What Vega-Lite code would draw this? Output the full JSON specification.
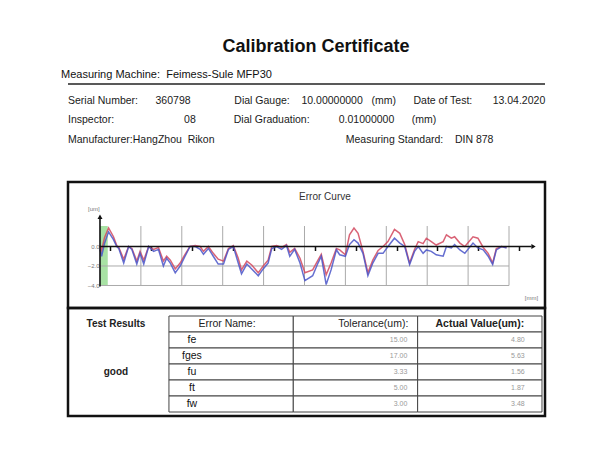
{
  "$schema": "https://vega.github.io/schema/vega-lite/v6.json",
  "background": "white",
  "padding": {"left": 61, "top": 33, "right": 0, "bottom": 0},
  "bounds": "flush",
  "spacing": 0,
  "config": {"font": "Liberation Sans", "view": {"stroke": null}},
  "vconcat": [
    {
      "width": 477,
      "height": 56,
      "layer": [
        {
          "data": {"values": [{"t": "Calibration Certificate"}]},
          "mark": {"type": "text", "fontSize": 18, "fontWeight": "bold", "fill": "#111", "dx": 9.5, "baseline": "middle"},
          "encoding": {
            "text": {"field": "t"},
            "x": {"datum": "center", "type": "ordinal", "scale": {"type": "point", "domain": ["left", "center", "right"], "padding": 0}, "axis": null},
            "y": {"datum": "title", "type": "ordinal", "scale": {"type": "band", "domain": ["title", "machine"], "paddingInner": 0, "paddingOuter": 0}, "axis": null}
          }
        },
        {
          "data": {"values": [{"t": "Measuring Machine:\u00a0\u00a0Feimess-Sule MFP30"}]},
          "mark": {"type": "text", "fontSize": 11, "fill": "#111", "align": "left", "dx": -7, "baseline": "middle"},
          "encoding": {
            "text": {"field": "t"},
            "x": {"datum": "left", "type": "ordinal"},
            "y": {"datum": "machine", "type": "ordinal"}
          }
        },
        {
          "data": {"values": [{}]},
          "mark": {"type": "rule", "stroke": "#222", "strokeWidth": 1.6},
          "encoding": {"y": {"datum": "machine", "type": "ordinal", "bandPosition": 0.82}}
        }
      ]
    },
    {
      "width": 477,
      "height": 93,
      "data": {"values": [
        {"line": "r1", "t": "Serial Number:\u00a0\u00a0\u00a0\u00a0\u00a0\u00a0360798\u00a0\u00a0\u00a0\u00a0\u00a0\u00a0\u00a0\u00a0\u00a0\u00a0\u00a0\u00a0\u00a0\u00a0\u00a0Dial Gauge:\u00a0\u00a0\u00a0\u00a010.00000000\u00a0\u00a0\u00a0(mm)\u00a0\u00a0\u00a0\u00a0\u00a0\u00a0Date of Test:\u00a0\u00a0\u00a0\u00a0\u00a0\u00a0\u00a013.04.2020"},
        {"line": "r2", "t": "Inspector:\u00a0\u00a0\u00a0\u00a0\u00a0\u00a0\u00a0\u00a0\u00a0\u00a0\u00a0\u00a0\u00a0\u00a0\u00a0\u00a0\u00a0\u00a0\u00a0\u00a0\u00a0\u00a0\u00a0\u00a008\u00a0\u00a0\u00a0\u00a0\u00a0\u00a0\u00a0\u00a0\u00a0\u00a0\u00a0\u00a0\u00a0Dial Graduation:\u00a0\u00a0\u00a0\u00a0\u00a0\u00a0\u00a0\u00a0\u00a0\u00a00.01000000\u00a0\u00a0\u00a0\u00a0\u00a0\u00a0(mm)"},
        {"line": "r3", "t": "Manufacturer:HangZhou\u00a0\u00a0Rikon\u00a0\u00a0\u00a0\u00a0\u00a0\u00a0\u00a0\u00a0\u00a0\u00a0\u00a0\u00a0\u00a0\u00a0\u00a0\u00a0\u00a0\u00a0\u00a0\u00a0\u00a0\u00a0\u00a0\u00a0\u00a0\u00a0\u00a0\u00a0\u00a0\u00a0\u00a0\u00a0\u00a0\u00a0\u00a0\u00a0\u00a0\u00a0\u00a0\u00a0\u00a0\u00a0\u00a0\u00a0\u00a0Measuring Standard:\u00a0\u00a0\u00a0\u00a0DIN 878"}
      ]},
      "mark": {"type": "text", "fontSize": 10.5, "fill": "#1a1a1a", "align": "left", "baseline": "middle"},
      "encoding": {
        "text": {"field": "t"},
        "x": {"datum": "left", "type": "ordinal", "scale": {"type": "point", "domain": ["left", "right"], "padding": 0}, "axis": null},
        "y": {"field": "line", "type": "ordinal", "scale": {"type": "band", "domain": ["r1", "r2", "r3"], "paddingInner": 0, "paddingOuter": 0.885, "align": 0.065}, "axis": null}
      }
    },
    {
      "width": 477,
      "height": 126,
      "view": {"stroke": "#111", "strokeWidth": 2.5},
      "layer": [
        {
          "data": {"values": [{}]},
          "mark": {"type": "rect", "fill": "#9fdf9a", "opacity": 0.9},
          "encoding": {
            "x": {"datum": 0, "type": "quantitative", "scale": {"domain": [-0.782, 10.88], "nice": false, "zero": false},
              "axis": {"title": null, "values": [0.25, 0.5, 0.75, 1, 1.25, 1.5, 1.75, 2, 2.25, 2.5, 2.75, 3, 3.25, 3.5, 3.75, 4, 4.25, 4.5, 4.75, 5, 5.25, 5.5, 5.75, 6, 6.25, 6.5, 6.75, 7, 7.25, 7.5, 7.75, 8, 8.25, 8.5, 8.75, 9, 9.25, 9.5, 9.75, 10, 10.25],
                "domain": false, "grid": false, "tickSize": 4, "tickWidth": 1.5, "tickColor": "#111", "offset": -61.5,
                "labelExpr": "datum.value % 1 === 0 ? datum.label : ''", "labelAlign": "left", "labelDx": 1, "labelFontSize": 6, "labelColor": "#888", "labelPadding": 1, "labelOverlap": false, "labelFlush": false}},
            "x2": {"datum": 0.19},
            "y": {"datum": -4, "type": "quantitative", "scale": {"domain": [-6.308, 6.615], "nice": false, "zero": false},
              "axis": {"title": null, "values": [0, -2, -4], "format": ".1f", "domain": false, "ticks": false, "grid": false, "offset": -32, "labelFontSize": 6, "labelColor": "#777", "labelPadding": 1}},
            "y2": {"datum": 2.1}
          }
        },
        {
          "data": {"values": [{"g": 1}, {"g": 2}, {"g": 3}, {"g": 4}, {"g": 5}, {"g": 6}, {"g": 7}, {"g": 8}, {"g": 9}, {"g": 10}]},
          "mark": {"type": "rule", "stroke": "#aaa", "strokeWidth": 1},
          "encoding": {"x": {"field": "g", "type": "quantitative"}, "y": {"datum": -4}, "y2": {"datum": 2.1}}
        },
        {
          "data": {"values": [{"h": -2}, {"h": -4}]},
          "mark": {"type": "rule", "stroke": "#aaa", "strokeWidth": 1},
          "encoding": {"y": {"field": "h", "type": "quantitative"}, "x": {"datum": 0}, "x2": {"datum": 10}}
        },
        {
          "data": {"values": [
            {"x": 0.00, "red": 0.1, "blue": -0.3}, {"x": 0.04, "red": -0.4, "blue": -1.0}, {"x": 0.11, "red": 0.9, "blue": 0.3}, {"x": 0.21, "red": 1.9, "blue": 1.5},
            {"x": 0.33, "red": 1.0, "blue": 0.7}, {"x": 0.41, "red": 0.1, "blue": 0.0}, {"x": 0.46, "red": -0.1, "blue": -0.2}, {"x": 0.58, "red": -1.3, "blue": -1.7},
            {"x": 0.70, "red": 0.0, "blue": 0.0}, {"x": 0.78, "red": -0.2, "blue": -0.3}, {"x": 0.90, "red": -1.5, "blue": -1.8}, {"x": 0.98, "red": -0.5, "blue": -0.7},
            {"x": 1.07, "red": -1.4, "blue": -1.8}, {"x": 1.19, "red": 0.0, "blue": 0.0}, {"x": 1.31, "red": -0.3, "blue": -0.5}, {"x": 1.43, "red": -0.1, "blue": -0.3},
            {"x": 1.55, "red": -1.5, "blue": -2.0}, {"x": 1.63, "red": -1.0, "blue": -1.2}, {"x": 1.72, "red": -1.4, "blue": -1.7}, {"x": 1.84, "red": -2.3, "blue": -2.7},
            {"x": 1.96, "red": -1.7, "blue": -2.0}, {"x": 2.08, "red": -0.8, "blue": -1.0}, {"x": 2.20, "red": 0.0, "blue": 0.0}, {"x": 2.33, "red": 0.1, "blue": 0.0},
            {"x": 2.45, "red": 0.0, "blue": -0.3}, {"x": 2.53, "red": -0.5, "blue": -0.8}, {"x": 2.65, "red": 0.0, "blue": -0.2}, {"x": 2.77, "red": -0.7, "blue": -1.0},
            {"x": 2.89, "red": -1.3, "blue": -1.8}, {"x": 3.02, "red": -1.5, "blue": -1.8}, {"x": 3.14, "red": -0.2, "blue": -0.3}, {"x": 3.26, "red": 0.1, "blue": 0.0},
            {"x": 3.38, "red": -1.2, "blue": -1.7}, {"x": 3.46, "red": -2.4, "blue": -2.8}, {"x": 3.59, "red": -1.5, "blue": -1.8}, {"x": 3.71, "red": -1.9, "blue": -2.3},
            {"x": 3.87, "red": -2.7, "blue": -3.0}, {"x": 3.99, "red": -2.0, "blue": -2.3}, {"x": 4.11, "red": -1.4, "blue": -1.7}, {"x": 4.20, "red": 0.0, "blue": -0.2},
            {"x": 4.32, "red": 0.1, "blue": 0.0}, {"x": 4.44, "red": -0.1, "blue": -0.3}, {"x": 4.56, "red": 0.2, "blue": 0.1}, {"x": 4.64, "red": -0.6, "blue": -1.0},
            {"x": 4.76, "red": -0.2, "blue": -0.3}, {"x": 4.89, "red": -1.2, "blue": -1.7}, {"x": 5.01, "red": -2.7, "blue": -3.5}, {"x": 5.20, "red": -2.4, "blue": -3.0},
            {"x": 5.33, "red": -1.4, "blue": -1.7}, {"x": 5.41, "red": -0.8, "blue": -1.0}, {"x": 5.53, "red": -2.9, "blue": -3.9}, {"x": 5.65, "red": -1.7, "blue": -2.4},
            {"x": 5.78, "red": -0.2, "blue": -0.35}, {"x": 5.86, "red": -0.35, "blue": -0.85}, {"x": 6.00, "red": -0.85, "blue": -1.0}, {"x": 6.10, "red": 1.2, "blue": 0.2},
            {"x": 6.21, "red": 1.9, "blue": 0.7}, {"x": 6.31, "red": 1.35, "blue": 0.35}, {"x": 6.43, "red": -0.5, "blue": -0.7}, {"x": 6.55, "red": -2.7, "blue": -3.0},
            {"x": 6.67, "red": -1.4, "blue": -1.7}, {"x": 6.80, "red": -0.4, "blue": -0.7}, {"x": 6.92, "red": 0.0, "blue": -0.7}, {"x": 7.04, "red": 0.5, "blue": 0.0},
            {"x": 7.20, "red": 1.75, "blue": 0.85}, {"x": 7.33, "red": 1.35, "blue": 0.35}, {"x": 7.45, "red": 0.2, "blue": 0.0}, {"x": 7.57, "red": -1.7, "blue": -1.85},
            {"x": 7.69, "red": -0.3, "blue": -0.5}, {"x": 7.78, "red": 0.5, "blue": 0.0}, {"x": 7.90, "red": 0.3, "blue": -0.7}, {"x": 7.98, "red": 0.85, "blue": -0.35},
            {"x": 8.10, "red": 0.5, "blue": -0.5}, {"x": 8.22, "red": 0.15, "blue": -0.85}, {"x": 8.39, "red": 0.5, "blue": -1.0}, {"x": 8.47, "red": 1.2, "blue": 0.0},
            {"x": 8.59, "red": 0.85, "blue": -0.15}, {"x": 8.67, "red": 1.0, "blue": 0.2}, {"x": 8.80, "red": 0.35, "blue": -0.35}, {"x": 8.92, "red": 0.0, "blue": -0.7},
            {"x": 9.12, "red": 1.0, "blue": 0.35}, {"x": 9.24, "red": 0.85, "blue": -0.15}, {"x": 9.37, "red": -0.1, "blue": -0.35}, {"x": 9.49, "red": -0.7, "blue": -1.0},
            {"x": 9.60, "red": -1.7, "blue": -1.85}, {"x": 9.69, "red": -0.2, "blue": -0.35}, {"x": 9.82, "red": 0.0, "blue": 0.0}, {"x": 9.94, "red": -0.1, "blue": -0.15}
          ]},
          "transform": [{"fold": ["red", "blue"], "as": ["series", "um"]}],
          "mark": {"type": "line", "strokeWidth": 1.5, "opacity": 0.85},
          "encoding": {
            "x": {"field": "x", "type": "quantitative"},
            "y": {"field": "um", "type": "quantitative"},
            "color": {"field": "series", "type": "nominal", "scale": {"domain": ["red", "blue"], "range": ["#d2485e", "#4a55c8"]}, "legend": null}
          }
        },
        {
          "data": {"values": [{}]},
          "mark": {"type": "rule", "stroke": "#111", "strokeWidth": 1.6},
          "encoding": {"y": {"datum": 0}, "x": {"datum": 0}, "x2": {"datum": 10.55}}
        },
        {
          "data": {"values": [{}]},
          "mark": {"type": "rule", "stroke": "#111", "strokeWidth": 1.6},
          "encoding": {"x": {"datum": 0}, "y": {"datum": -4.1}, "y2": {"datum": 3.0}}
        },
        {
          "data": {"values": [{}]},
          "mark": {"type": "point", "shape": "triangle-up", "filled": true, "color": "#111", "size": 25, "opacity": 1},
          "encoding": {"x": {"datum": 0}, "y": {"datum": 3.05}}
        },
        {
          "data": {"values": [{}]},
          "mark": {"type": "point", "shape": "triangle-right", "filled": true, "color": "#111", "size": 25, "opacity": 1},
          "encoding": {"x": {"datum": 10.6}, "y": {"datum": 0}}
        },
        {
          "data": {"values": [{"t": "Error Curve"}]},
          "mark": {"type": "text", "fontSize": 10, "fill": "#333"},
          "encoding": {"text": {"field": "t"}, "x": {"datum": 5.5}, "y": {"datum": 5.05}}
        },
        {
          "data": {"values": [{"t": "[um]"}]},
          "mark": {"type": "text", "fontSize": 6, "fill": "#777"},
          "encoding": {"text": {"field": "t"}, "x": {"datum": -0.15}, "y": {"datum": 3.85}}
        },
        {
          "data": {"values": [{"t": "[mm]"}]},
          "mark": {"type": "text", "fontSize": 6, "fill": "#777"},
          "encoding": {"text": {"field": "t"}, "x": {"datum": 10.55}, "y": {"datum": -5.3}}
        }
      ]
    },
    {
      "width": 477,
      "height": 108,
      "view": {"stroke": "#111", "strokeWidth": 2.5},
      "data": {"values": [
        {"key": "hdr", "name": "Error Name:", "tol": "Tolerance(um):", "act": "Actual Value(um):"},
        {"key": "fe", "name": "fe", "tol": "15.00", "act": "4.80"},
        {"key": "fges", "name": "fges", "tol": "17.00", "act": "5.63"},
        {"key": "fu", "name": "fu", "tol": "3.33", "act": "1.56"},
        {"key": "ft", "name": "ft", "tol": "5.00", "act": "1.87"},
        {"key": "fw", "name": "fw", "tol": "3.00", "act": "3.48"}
      ]},
      "layer": [
        {
          "transform": [{"fold": ["name", "tol", "act"], "as": ["col", "val"]}],
          "mark": {"type": "rect", "fill": "white", "stroke": "#444", "strokeWidth": 1},
          "encoding": {
            "x": {"field": "col", "type": "ordinal", "scale": {"type": "band", "domain": ["name", "tol", "act"], "paddingInner": 0, "paddingOuter": 0.418, "align": 0.971}, "axis": null},
            "y": {"field": "key", "type": "ordinal", "scale": {"type": "band", "domain": ["hdr", "fe", "fges", "fu", "ft", "fw"], "paddingInner": 0, "paddingOuter": 0.375, "align": 0.667}, "axis": null}
          }
        },
        {
          "transform": [{"filter": "datum.key === 'hdr'"}],
          "mark": {"type": "text", "fontSize": 10.5, "fill": "#222", "align": "center"},
          "encoding": {"text": {"field": "name"}, "x": {"datum": "name", "type": "ordinal", "bandPosition": 0.467}, "y": {"field": "key", "type": "ordinal"}}
        },
        {
          "transform": [{"filter": "datum.key === 'hdr'"}],
          "mark": {"type": "text", "fontSize": 10.5, "fill": "#222", "align": "right"},
          "encoding": {"text": {"field": "tol"}, "x": {"datum": "tol", "type": "ordinal", "bandPosition": 0.925}, "y": {"field": "key", "type": "ordinal"}}
        },
        {
          "transform": [{"filter": "datum.key === 'hdr'"}],
          "mark": {"type": "text", "fontSize": 10.5, "fontWeight": "bold", "fill": "#222", "align": "center"},
          "encoding": {"text": {"field": "act"}, "x": {"datum": "act", "type": "ordinal", "bandPosition": 0.5}, "y": {"field": "key", "type": "ordinal"}}
        },
        {
          "transform": [{"filter": "datum.key !== 'hdr'"}],
          "mark": {"type": "text", "fontSize": 10.5, "fill": "#111", "align": "center"},
          "encoding": {"text": {"field": "name"}, "x": {"datum": "name", "type": "ordinal", "bandPosition": 0.185}, "y": {"field": "key", "type": "ordinal"}}
        },
        {
          "transform": [{"filter": "datum.key !== 'hdr'"}],
          "mark": {"type": "text", "fontSize": 7, "fill": "#999", "align": "right"},
          "encoding": {"text": {"field": "tol"}, "x": {"datum": "tol", "type": "ordinal", "bandPosition": 0.917}, "y": {"field": "key", "type": "ordinal"}}
        },
        {
          "transform": [{"filter": "datum.key !== 'hdr'"}],
          "mark": {"type": "text", "fontSize": 7, "fill": "#999", "align": "right"},
          "encoding": {"text": {"field": "act"}, "x": {"datum": "act", "type": "ordinal", "bandPosition": 0.861}, "y": {"field": "key", "type": "ordinal"}}
        },
        {
          "data": {"values": [{"t": "Test Results", "r": "hdr"}, {"t": "good", "r": "fu"}]},
          "mark": {"type": "text", "fontSize": 10, "fontWeight": "bold", "fill": "#222", "align": "center", "dx": -53},
          "encoding": {"text": {"field": "t"}, "x": {"datum": "name", "type": "ordinal", "bandPosition": 0}, "y": {"field": "r", "type": "ordinal"}}
        }
      ]
    }
  ]
}
